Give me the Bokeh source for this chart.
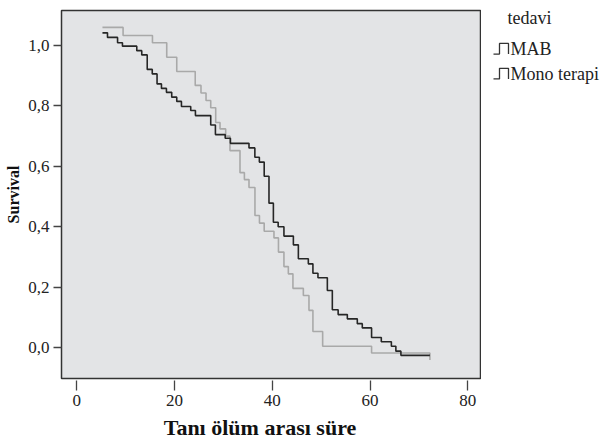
from bokeh.plotting import figure
from bokeh.layouts import row, column
from bokeh.models import Range1d, FixedTicker, CustomJSTickFormatter, Label
from bokeh.embed import file_html
from bokeh.resources import INLINE

# ---- data ----
mab_time = [5.25, 6.28, 8.34, 9.34, 12.27, 13.29, 14.41, 15.44, 16.42, 17.32,
            18.34, 19.42, 20.45, 21.41, 23.31, 24.27, 27.40, 28.36, 30.36, 31.43,
            35.23, 36.43, 37.35, 38.34, 39.32, 40.22, 41.20, 42.38, 44.31, 45.33,
            47.37, 48.31, 49.34, 51.26, 52.28, 53.47, 55.35, 57.39, 58.41, 60.31,
            62.30, 64.36, 65.28, 66.31, 72.24]
mab_surv = [1.042, 1.027, 1.009, 0.998, 0.983, 0.969, 0.921, 0.906, 0.873, 0.858,
            0.845, 0.829, 0.815, 0.798, 0.785, 0.768, 0.737, 0.705, 0.693, 0.676,
            0.661, 0.630, 0.614, 0.567, 0.478, 0.415, 0.400, 0.369, 0.340, 0.294,
            0.277, 0.246, 0.231, 0.189, 0.125, 0.109, 0.095, 0.079, 0.065, 0.033,
            0.019, 0.004, -0.012, -0.026, -0.026]

mono_time = [5.25, 9.47, 15.48, 18.40, 20.45, 24.23, 25.41, 26.44, 27.40, 28.42,
             29.30, 30.46, 31.34, 33.39, 34.29, 35.23, 36.45, 37.37, 38.34, 40.34,
             41.26, 42.38, 43.28, 44.22, 46.35, 47.50, 48.31, 50.30, 60.31, 72.24]
mono_surv = [1.060, 1.033, 1.009, 0.961, 0.914, 0.868, 0.843, 0.818, 0.794, 0.745,
             0.724, 0.700, 0.652, 0.579, 0.556, 0.530, 0.437, 0.412, 0.385, 0.363,
             0.316, 0.268, 0.244, 0.196, 0.172, 0.123, 0.053, 0.004, -0.018, -0.041]

x_ticks = [0, 20, 40, 60, 80]
y_ticks = [0.0, 0.2, 0.4, 0.6, 0.8, 1.0]
legend_title = "tedavi"
group_names = ["MAB", "Mono terapi"]
group_colors = ["#262626", "#a9a9a9"]
x_title = "Tanı ölüm arası süre"
y_title = "Survival"

FONT = "Liberation Serif"
H_TOP = 414
H_TITLE = 26
W_MAIN = 481
W_LEG = 122

p = figure(width=W_MAIN, height=H_TOP, title=None,
           x_range=Range1d(-3.13, 82.8), y_range=Range1d(-0.1026, 1.116),
           output_backend="svg", toolbar_location=None,
           min_border_top=10, min_border_left=61, min_border_right=0, min_border_bottom=36)
p.background_fill_color = "#e3e4e6"
p.border_fill_color = "white"
p.outline_line_color = "#333333"
p.outline_line_width = 1.5
p.grid.visible = False

p.step(mono_time, mono_surv, mode="after", line_color=group_colors[1], line_width=1.6)
p.step(mab_time, mab_surv, mode="after", line_color=group_colors[0], line_width=1.6)

p.xaxis.ticker = FixedTicker(ticks=x_ticks)
p.yaxis.ticker = FixedTicker(ticks=y_ticks)
p.yaxis.formatter = CustomJSTickFormatter(code="return tick.toFixed(1).replace('.', ',');")

for ax in (p.xaxis[0], p.yaxis[0]):
    ax.axis_line_color = None
    ax.minor_tick_line_color = None
    ax.major_tick_line_color = "#444444"
    ax.major_tick_line_width = 1.3
    ax.major_label_text_font = FONT
    ax.major_label_text_font_size = "17px"
    ax.major_label_text_color = "#222222"
    ax.axis_label_text_font = FONT
    ax.axis_label_text_font_style = "bold"
    ax.axis_label_text_color = "#111111"

p.xaxis.major_tick_in = -2
p.xaxis.major_tick_out = 12
p.xaxis.major_label_standoff = 4

p.yaxis.major_tick_in = 0
p.yaxis.major_tick_out = 8
p.yaxis.major_label_standoff = 4
p.yaxis.axis_label = y_title
p.yaxis.axis_label_text_font_size = "16px"
p.yaxis.axis_label_standoff = 3


def blank(width, height):
    f = figure(width=width, height=height, title=None,
               x_range=Range1d(0, width), y_range=Range1d(height, 0),
               output_backend="svg", toolbar_location=None,
               min_border=0, min_border_left=0, min_border_right=0,
               min_border_top=0, min_border_bottom=0)
    f.axis.visible = False
    f.grid.visible = False
    f.outline_line_color = None
    f.background_fill_color = "white"
    f.border_fill_color = "white"
    return f


# ---- legend panel ----
leg = blank(W_LEG, H_TOP)
leg.add_layout(Label(x=26, y=8, text=legend_title, text_font=FONT,
                     text_font_size="18px", text_baseline="middle", text_align="left",
                     text_color="#222222"))
row_y = [43, 71]
for name, yy in zip(group_names, row_y):
    leg.line(x=[12, 18, 18, 27, 27], y=[yy + 6, yy + 6, yy - 6, yy - 6, yy + 6],
             line_color="#333333", line_width=1.3)
    leg.add_layout(Label(x=29, y=yy, text=name, text_font=FONT,
                         text_font_size="18px", text_baseline="middle", text_align="left",
                         text_color="#222222"))

# ---- x-axis title strip (the original centres it slightly left of the frame) ----
tit = blank(W_MAIN + W_LEG, H_TITLE)
tit.add_layout(Label(x=259.5, y=13, text=x_title, text_font=FONT,
                     text_font_style="bold", text_font_size="22px",
                     text_align="center", text_baseline="middle", text_color="#111111"))

layout = column(row(p, leg), tit)
open("out.html", "w").write(file_html(layout, INLINE))
